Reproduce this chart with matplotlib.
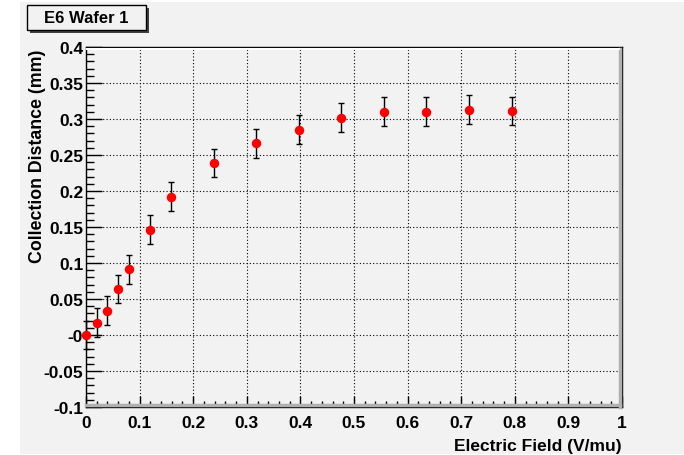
import matplotlib
matplotlib.use("Agg")
import matplotlib.pyplot as plt
from matplotlib.patches import Rectangle
from matplotlib.ticker import FixedLocator, FixedFormatter, MultipleLocator
from matplotlib.lines import Line2D

# ---- data ----
field = [0.0, 0.0198, 0.0397, 0.0595, 0.0794, 0.119, 0.159, 0.238, 0.317, 0.397, 0.476, 0.556, 0.635, 0.714, 0.794]
distance = [0.0, 0.017, 0.034, 0.064, 0.091, 0.146, 0.192, 0.239, 0.266, 0.285, 0.302, 0.310, 0.310, 0.313, 0.311]
dist_err = [0.02] * 15
xticks = [0, 0.1, 0.2, 0.3, 0.4, 0.5, 0.6, 0.7, 0.8, 0.9, 1.0]
xticklabels = ["0", "0.1", "0.2", "0.3", "0.4", "0.5", "0.6", "0.7", "0.8", "0.9", "1"]
yticks = [-0.1, -0.05, 0.0, 0.05, 0.1, 0.15, 0.2, 0.25, 0.3, 0.35, 0.4]
yticklabels = ["-0.1", "-0.05", "-0", "0.05", "0.1", "0.15", "0.2", "0.25", "0.3", "0.35", "0.4"]
title = "E6 Wafer 1"
xlabel = "Electric Field (V/mu)"
ylabel = "Collection Distance (mm)"

W, H = 684, 456
plt.rcParams['font.family'] = ['Liberation Sans', 'DejaVu Sans']
plt.rcParams['font.weight'] = 'bold'
fig = plt.figure(figsize=(W / 100, H / 100), dpi=100, facecolor='white')
BG = '#f2f2f2'

def fx(px):
    return px / W

def fy(py):
    return 1 - py / H

# canvas background
fig.patches.append(Rectangle((fx(20), fy(455)), fx(664), 452 / H, transform=fig.transFigure,
                             facecolor=BG, edgecolor='none', zorder=-10))

L, R, T, B = 86, 622, 48, 408
ax = fig.add_axes([fx(L), fy(B), (R - L) / W, (B - T) / H])
ax.set_facecolor(BG)
ax.set_xlim(0, 1)
ax.set_ylim(-0.1, 0.4)

ax.xaxis.set_major_locator(FixedLocator(xticks))
ax.xaxis.set_major_formatter(FixedFormatter(xticklabels))
ax.yaxis.set_major_locator(FixedLocator(yticks))
ax.yaxis.set_major_formatter(FixedFormatter(yticklabels))
ax.xaxis.set_minor_locator(MultipleLocator(0.02))
ax.yaxis.set_minor_locator(MultipleLocator(0.01))

ax.tick_params(axis='x', which='major', direction='in', length=7.9, width=1, labelsize=12.5, pad=6)
ax.tick_params(axis='x', which='minor', direction='in', length=4, width=1)
ax.tick_params(axis='y', which='major', direction='in', length=11.5, width=1, labelsize=12.5, pad=2)
ax.tick_params(axis='y', which='minor', direction='in', length=5.8, width=1)
ax.tick_params(top=False, right=False, which='both')
for lab in ax.get_xticklabels() + ax.get_yticklabels():
    lab.set_fontweight('bold')

ax.grid(True, which='major', color='black', linestyle=(0, (1, 2)), linewidth=0.8)
ax.set_axisbelow(True)
for s in ax.spines.values():
    s.set_color('black')
    s.set_linewidth(1)

ax.errorbar(field, distance, yerr=dist_err, fmt='o', color='red', markersize=5.8,
            ecolor='black', elinewidth=1, capsize=2, capthick=1, zorder=5, clip_on=False)

# frame bevel: gray band along right and bottom, white on top
fig.lines.append(Line2D([fx(R - 2), fx(R - 2)], [fy(B), fy(T + 2)], transform=fig.transFigure,
                        color='#b0b0b0', linewidth=2.5, zorder=3))
fig.lines.append(Line2D([fx(L), fx(R - 2)], [fy(B - 2), fy(B - 2)], transform=fig.transFigure,
                        color='#b0b0b0', linewidth=2.5, zorder=3))
fig.lines.append(Line2D([fx(L + 1), fx(R - 3)], [fy(T + 1.5), fy(T + 1.5)], transform=fig.transFigure,
                        color='white', linewidth=1.5, zorder=3))

# axis titles
fig.text(fx(R), fy(451), xlabel, ha='right', va='baseline', fontsize=12.5, fontweight='bold')
fig.text(fx(38), fy(T + 2), ylabel, ha='center', va='top', rotation=90, fontsize=12.8, fontweight='bold')

# title box with shadow
bx0, by0, bx1, by1 = 27, 6, 146, 31
fig.patches.append(Rectangle((fx(bx0 + 3), fy(by1 + 3)), (bx1 - bx0) / W, (by1 - by0) / H,
                             transform=fig.transFigure, facecolor='#404040', edgecolor='none', zorder=1))
fig.patches.append(Rectangle((fx(bx0), fy(by1)), (bx1 - bx0) / W, (by1 - by0) / H,
                             transform=fig.transFigure, facecolor=BG, edgecolor='black', linewidth=1, zorder=2))
fig.text(fx((bx0 + bx1) / 2), fy((by0 + by1) / 2), title, ha='center', va='center',
         fontsize=12, fontweight='bold', zorder=3)

fig.savefig('out.png', dpi=100, facecolor='white')
